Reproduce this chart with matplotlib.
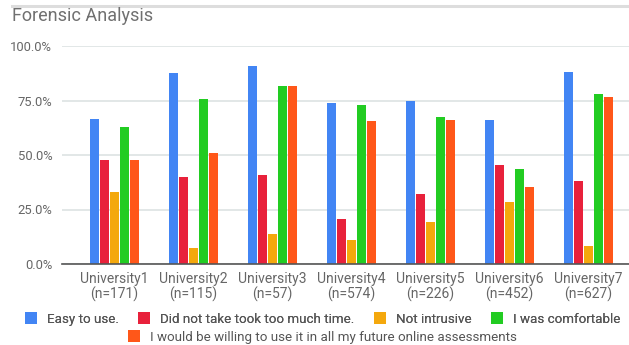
import numpy as np
import matplotlib.pyplot as plt
from matplotlib.lines import Line2D
from matplotlib.ticker import FuncFormatter

plt.rcParams['font.family'] = ['Roboto', 'DejaVu Sans']

universities = ['University1\n(n=171)', 'University2\n(n=115)', 'University3\n(n=57)',
                'University4\n(n=574)', 'University5\n(n=226)', 'University6\n(n=452)',
                'University7\n(n=627)']

easy_to_use = [66.5, 87.8, 90.8, 73.7, 74.9, 66.0, 88.0]
not_too_much_time = [47.7, 40.0, 40.8, 20.8, 32.1, 45.5, 38.2]
not_intrusive = [33.2, 7.5, 13.8, 11.2, 19.3, 28.6, 8.4]
comfortable = [62.8, 75.8, 81.8, 73.1, 67.6, 43.7, 77.8]
willing_future = [47.7, 51.0, 81.8, 65.4, 66.1, 35.2, 76.8]

series = [
    ('Easy to use.', easy_to_use, '#4285f4'),
    ('Did not take took too much time.', not_too_much_time, '#e8213b'),
    ('Not intrusive', not_intrusive, '#f4a80d'),
    ('I was comfortable', comfortable, '#22cc22'),
    ('I would be willing to use it in all my future online assessments', willing_future, '#ff5719'),
]

fig = plt.figure(figsize=(6.29, 3.45), dpi=100)
W, H = 629, 345

# plot area in pixels
left, right, top, bottom = 62, 641, 46, 264
ax = fig.add_axes([left / W, 1 - bottom / H, (right - left) / W, (bottom - top) / H])

x = np.arange(len(universities))
pitch = 0.1266
width = 0.114
handles = []
for i, (label, vals, color) in enumerate(series):
    offset = (i - 2) * pitch
    bars = ax.bar(x + offset, vals, width=width, color=color, label=label, zorder=3)
    handles.append(bars)

ax.set_xlim(-0.665, len(universities) - 1 + 0.665)
ax.set_ylim(0, 100)
ax.set_yticks([0, 25, 50, 75, 100])
ax.yaxis.set_major_formatter(FuncFormatter(lambda v, p: f'{v:.1f}%'))
ax.grid(axis='y', color='#dde3e3', linewidth=1.2, zorder=0)
for s in ['top', 'right', 'left']:
    ax.spines[s].set_visible(False)
ax.spines['bottom'].set_color('#555555')
ax.spines['bottom'].set_linewidth(1.2)
ax.spines['bottom'].set_zorder(4)
ax.tick_params(axis='y', length=0, colors='#666666', labelsize=9.4, pad=7)
ax.tick_params(axis='x', length=0, colors='#666666', labelsize=10, pad=6)
ax.set_xticks(x)
ax.set_xticklabels(universities, linespacing=1.05)

fig.text(12 / W, 1 - 16 / H, 'Forensic Analysis', fontsize=13, color='#707070', va='center', ha='left')
fig.add_artist(Line2D([12 / W, 1], [1 - 6 / H, 1 - 6 / H], color='#dddddd', linewidth=2.2))

leg_kw = dict(frameon=False, fontsize=9.6, handlelength=0.9, handleheight=0.9,
              handletextpad=0.75, labelcolor='#555555', borderaxespad=0, borderpad=0)
leg1 = fig.legend(handles=handles[:4], labels=[s[0] for s in series[:4]], ncol=4,
                  loc='center left', bbox_to_anchor=(25 / W, 1 - 319 / H),
                  columnspacing=1.45, **leg_kw)
fig.legend(handles=handles[4:], labels=[series[4][0]], loc='center left',
           bbox_to_anchor=(128 / W, 1 - 337 / H), **leg_kw)
fig.add_artist(leg1)

fig.savefig('out.png', dpi=100)
